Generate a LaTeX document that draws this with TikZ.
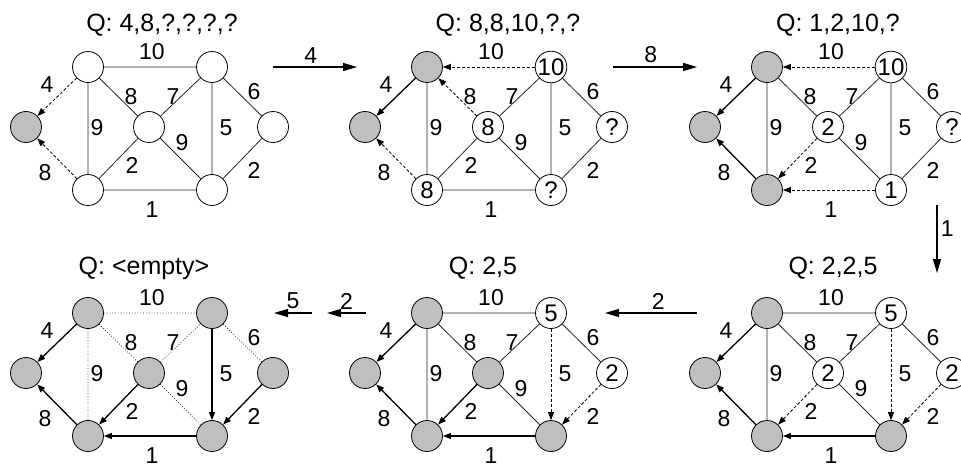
\documentclass[tikz,border=0pt]{standalone}
\usepackage{fontspec}
\setmainfont{Liberation Sans}
\usetikzlibrary{arrows.meta}

\begin{document}
\begin{tikzpicture}[
    x=1pt, y=-1pt,
    font=\fontsize{23}{27}\selectfont,
    title/.style={font=\fontsize{25}{29}\selectfont},
    vtx/.style={circle, draw, line width=0.8pt, minimum size=31pt, inner sep=0pt,
        font=\fontsize{24}{28}\selectfont},
    done/.style={vtx, fill=black!25},
    link/.style={draw=black!85, line width=0.8pt},
    unused/.style={link, dotted},
    tree/.style={-{Triangle[length=8pt, width=6pt]}, line width=1.3pt},
    cand/.style={-{Triangle[length=8pt, width=6pt]}, dash pattern=on 3pt off 2pt, line width=0.8pt},
    move/.style={-{Triangle[length=14pt, width=8pt]}, line width=1.3pt}
]
\useasboundingbox (0,0) rectangle (961,467);

\node[title] (t1) at (162,25) {Q: 4,8,?,?,?,?};
\node[title] (t2) at (508,25) {Q: 8,8,10,?,?};
\node[title] (t3) at (838,25) {Q: 1,2,10,?};
\node[title] (t4) at (833,268) {Q: 2,2,5};
\node[title] (t5) at (483,268) {Q: 2,5};
\node[title] (t6) at (144,268) {Q: <empty>};

\begin{scope}[shift={(0,0)}]
\node[done] (a1) at (26,127) {};
\node[vtx] (b1) at (88,67) {};
\node[vtx] (c1) at (88,190) {};
\node[vtx] (d1) at (149,127) {};
\node[vtx] (e1) at (212,67) {};
\node[vtx] (f1) at (212,190) {};
\node[vtx] (g1) at (273,127) {};
\draw[cand] (b1) -- (a1);
\draw[cand] (c1) -- (a1);
\draw[link] (b1) -- (c1) (b1) -- (e1) (b1) -- (d1) (c1) -- (d1) (c1) -- (f1)
    (d1) -- (e1) (d1) -- (f1) (e1) -- (f1) (e1) -- (g1) (f1) -- (g1);
\end{scope}

\begin{scope}[shift={(339,0)}]
\node[done] (a2) at (26,127) {};
\node[done] (b2) at (88,67) {};
\node[vtx] (c2) at (88,190) {8};
\node[vtx] (d2) at (149,127) {8};
\node[vtx] (e2) at (212,67) {10};
\node[vtx] (f2) at (212,190) {?};
\node[vtx] (g2) at (273,127) {?};
\draw[tree] (b2) -- (a2);
\draw[cand] (c2) -- (a2);
\draw[cand] (d2) -- (b2);
\draw[cand] (e2) -- (b2);
\draw[link] (b2) -- (c2) (c2) -- (d2) (c2) -- (f2) (d2) -- (e2) (d2) -- (f2)
    (e2) -- (f2) (e2) -- (g2) (f2) -- (g2);
\end{scope}

\begin{scope}[shift={(679,0)}]
\node[done] (a3) at (26,127) {};
\node[done] (b3) at (88,67) {};
\node[done] (c3) at (88,190) {};
\node[vtx] (d3) at (149,127) {2};
\node[vtx] (e3) at (212,67) {10};
\node[vtx] (f3) at (212,190) {1};
\node[vtx] (g3) at (273,127) {?};
\draw[tree] (b3) -- (a3);
\draw[tree] (c3) -- (a3);
\draw[cand] (e3) -- (b3);
\draw[cand] (d3) -- (c3);
\draw[cand] (f3) -- (c3);
\draw[link] (b3) -- (c3) (b3) -- (d3) (d3) -- (e3) (d3) -- (f3) (e3) -- (f3)
    (e3) -- (g3) (f3) -- (g3);
\end{scope}

\begin{scope}[shift={(679,246)}]
\node[done] (a4) at (26,127) {};
\node[done] (b4) at (88,67) {};
\node[done] (c4) at (88,190) {};
\node[vtx] (d4) at (149,127) {2};
\node[vtx] (e4) at (212,67) {5};
\node[done] (f4) at (212,190) {};
\node[vtx] (g4) at (273,127) {2};
\draw[tree] (b4) -- (a4);
\draw[tree] (c4) -- (a4);
\draw[tree] (f4) -- (c4);
\draw[cand] (d4) -- (c4);
\draw[cand] (e4) -- (f4);
\draw[cand] (g4) -- (f4);
\draw[link] (b4) -- (c4) (b4) -- (e4) (b4) -- (d4) (d4) -- (e4) (d4) -- (f4)
    (e4) -- (g4);
\end{scope}

\begin{scope}[shift={(339,246)}]
\node[done] (a5) at (26,127) {};
\node[done] (b5) at (88,67) {};
\node[done] (c5) at (88,190) {};
\node[done] (d5) at (149,127) {};
\node[vtx] (e5) at (212,67) {5};
\node[done] (f5) at (212,190) {};
\node[vtx] (g5) at (273,127) {2};
\draw[tree] (b5) -- (a5);
\draw[tree] (c5) -- (a5);
\draw[tree] (d5) -- (c5);
\draw[tree] (f5) -- (c5);
\draw[cand] (e5) -- (f5);
\draw[cand] (g5) -- (f5);
\draw[link] (b5) -- (c5) (b5) -- (e5) (b5) -- (d5) (d5) -- (e5) (d5) -- (f5)
    (e5) -- (g5);
\end{scope}

\begin{scope}[shift={(0,246)}]
\node[done] (a6) at (26,127) {};
\node[done] (b6) at (88,67) {};
\node[done] (c6) at (88,190) {};
\node[done] (d6) at (149,127) {};
\node[done] (e6) at (212,67) {};
\node[done] (f6) at (212,190) {};
\node[done] (g6) at (273,127) {};
\draw[tree] (b6) -- (a6);
\draw[tree] (c6) -- (a6);
\draw[tree] (d6) -- (c6);
\draw[tree] (f6) -- (c6);
\draw[tree] (e6) -- (f6);
\draw[tree] (g6) -- (f6);
\draw[unused] (b6) -- (c6) (b6) -- (e6) (b6) -- (d6) (d6) -- (e6) (d6) -- (f6)
    (e6) -- (g6);
\end{scope}

\foreach \dx/\dy [count=\p] in {0/0, 339/0, 679/0, 679/246, 339/246, 0/246}
  \foreach \lx/\ly/\w [count=\q] in {152/52/10, 47/85/4, 45/173/8, 97/128/9,
      131/97/8, 173/97/7, 132/165/2, 182/143/9, 226/128/5, 254/92/6,
      254/170/2, 152/210/1}
    \node (w\p-\q) at (\dx+\lx, \dy+\ly) {\w};

\coordinate (m1s) at (273,67);
\coordinate (m1e) at (357,67);
\coordinate (m2s) at (613,67);
\coordinate (m2e) at (697,67);
\coordinate (m3s) at (937,205);
\coordinate (m3e) at (937,273);
\coordinate (m4s) at (697,313);
\coordinate (m4e) at (605,313);
\coordinate (m5s) at (366,313);
\coordinate (m5e) at (327,313);
\coordinate (m6s) at (312,313);
\coordinate (m6e) at (274,313);
\draw[move] (m1s) -- node[above, pos=0.45] {4} (m1e);
\draw[move] (m2s) -- node[above, pos=0.45] {8} (m2e);
\draw[move] (m3s) -- node[right, pos=0.35] {1} (m3e);
\draw[move] (m4s) -- node[above, pos=0.42] {2} (m4e);
\draw[move] (m5s) -- node[above] {2} (m5e);
\draw[move] (m6s) -- node[above] {5} (m6e);
\end{tikzpicture}
\end{document}
